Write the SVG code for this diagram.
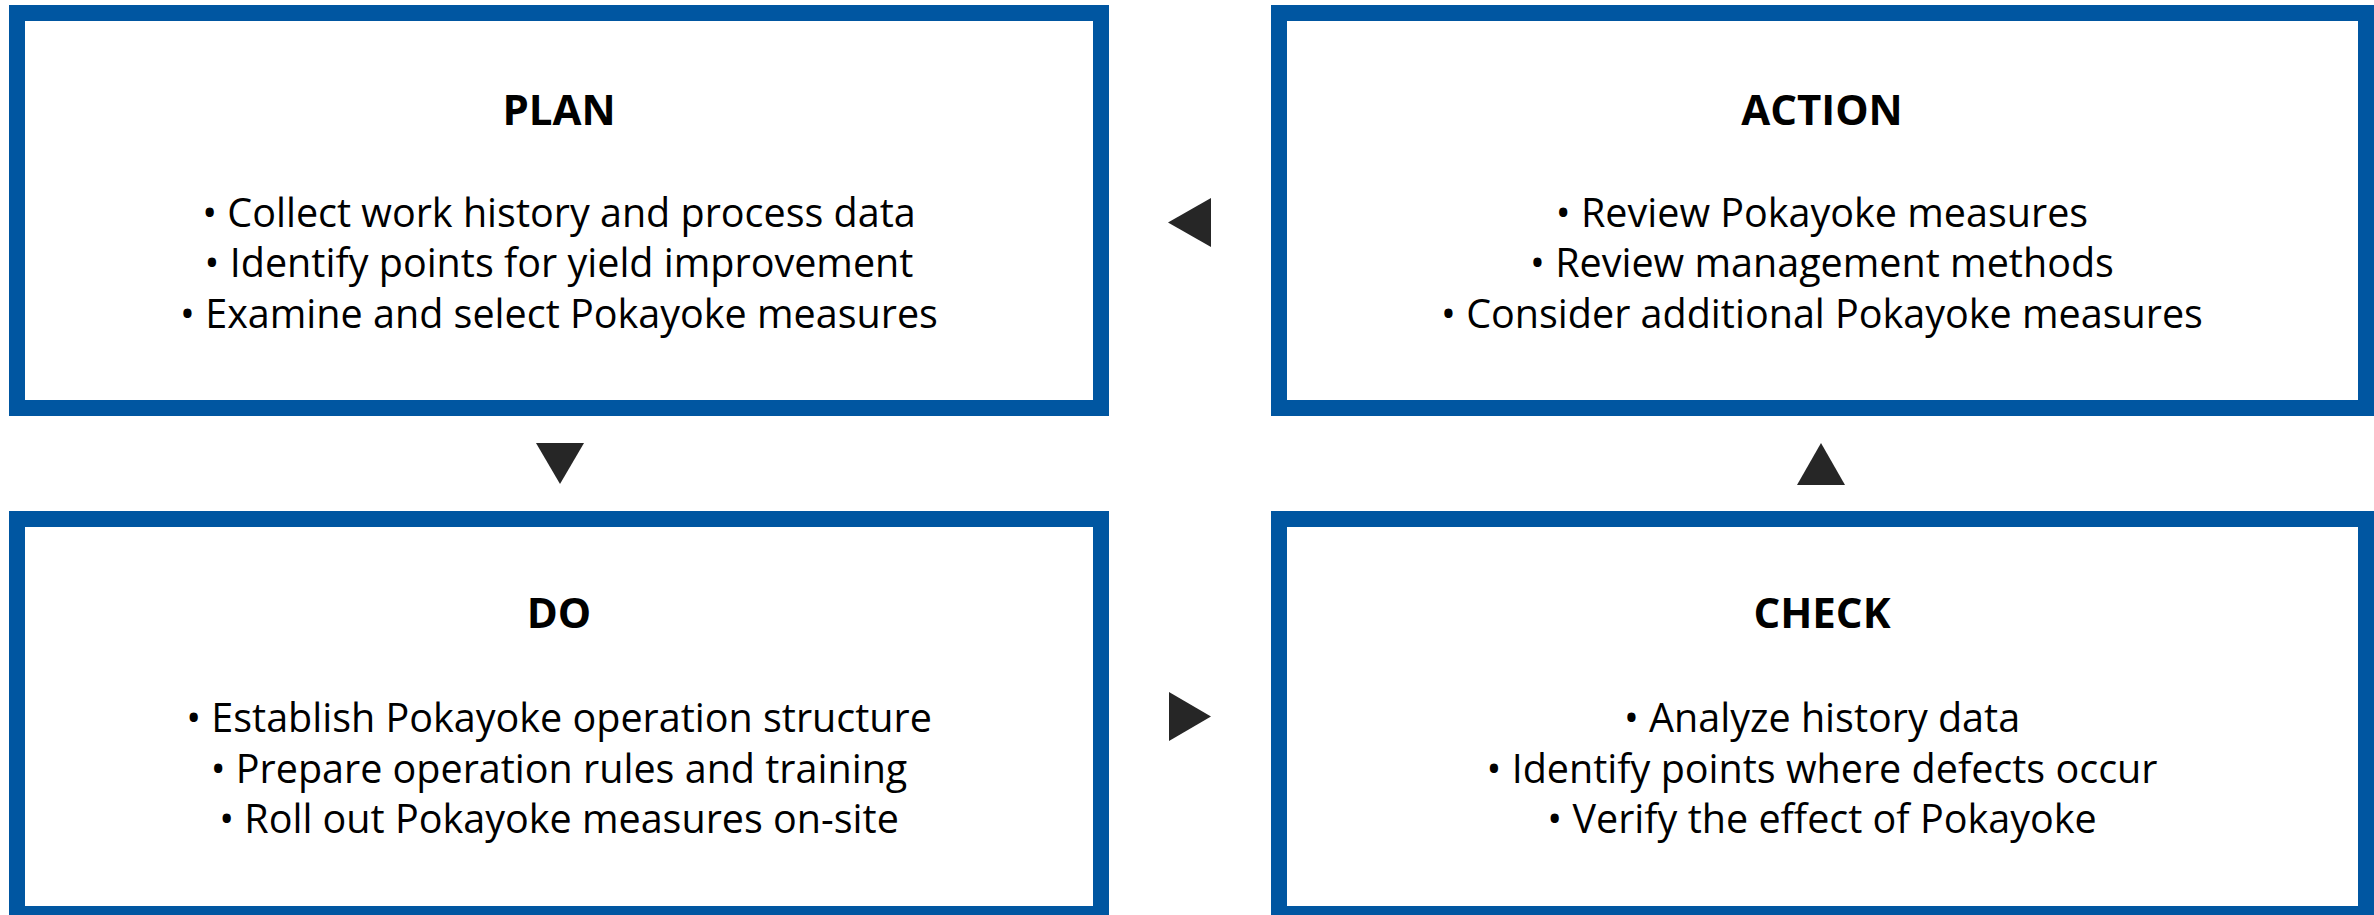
<svg xmlns="http://www.w3.org/2000/svg" width="2374" height="915" viewBox="0 0 2374 915">
<style>
.box{fill:#fff;stroke:#0056A1;stroke-width:16}
.t{font-family:"Open Sans","Noto Sans",sans-serif;font-size:42px;font-weight:bold;fill:#000;text-anchor:middle}
.b{font-family:"Open Sans","Noto Sans",sans-serif;font-size:39.5px;fill:#000;text-anchor:middle}
.arr{fill:#262626}
</style>
<rect width="2374" height="915" fill="#fff"/>
<g id="plan">
<rect class="box" x="17" y="13" width="1084" height="395"/>
<text class="t" x="559" y="125">PLAN</text>
<text class="b" x="559" y="227">• Collect work history and process data</text>
<text class="b" x="559" y="277">• Identify points for yield improvement</text>
<text class="b" x="559" y="328">• Examine and select Pokayoke measures</text>
</g>
<g id="action">
<rect class="box" x="1279" y="13" width="1087" height="395"/>
<text class="t" x="1822" y="125">ACTION</text>
<text class="b" x="1822" y="227">• Review Pokayoke measures</text>
<text class="b" x="1822" y="277">• Review management methods</text>
<text class="b" x="1822" y="328">• Consider additional Pokayoke measures</text>
</g>
<g id="do">
<rect class="box" x="17" y="519" width="1084" height="395"/>
<text class="t" x="559" y="628">DO</text>
<text class="b" x="559" y="732">• Establish Pokayoke operation structure</text>
<text class="b" x="559" y="783">• Prepare operation rules and training</text>
<text class="b" x="559" y="833">• Roll out Pokayoke measures on-site</text>
</g>
<g id="check">
<rect class="box" x="1279" y="519" width="1087" height="395"/>
<text class="t" x="1822" y="628">CHECK</text>
<text class="b" x="1822" y="732">• Analyze history data</text>
<text class="b" x="1822" y="783">• Identify points where defects occur</text>
<text class="b" x="1822" y="833">• Verify the effect of Pokayoke</text>
</g>
<g id="connectors">
<polygon class="arr" points="536,443 584,443 560,484"/>
<polygon class="arr" points="1169,692 1211,716.5 1169,741"/>
<polygon class="arr" points="1797,485 1845,485 1821,443"/>
<polygon class="arr" points="1211,198 1211,247 1168,222.5"/>
</g>
</svg>
